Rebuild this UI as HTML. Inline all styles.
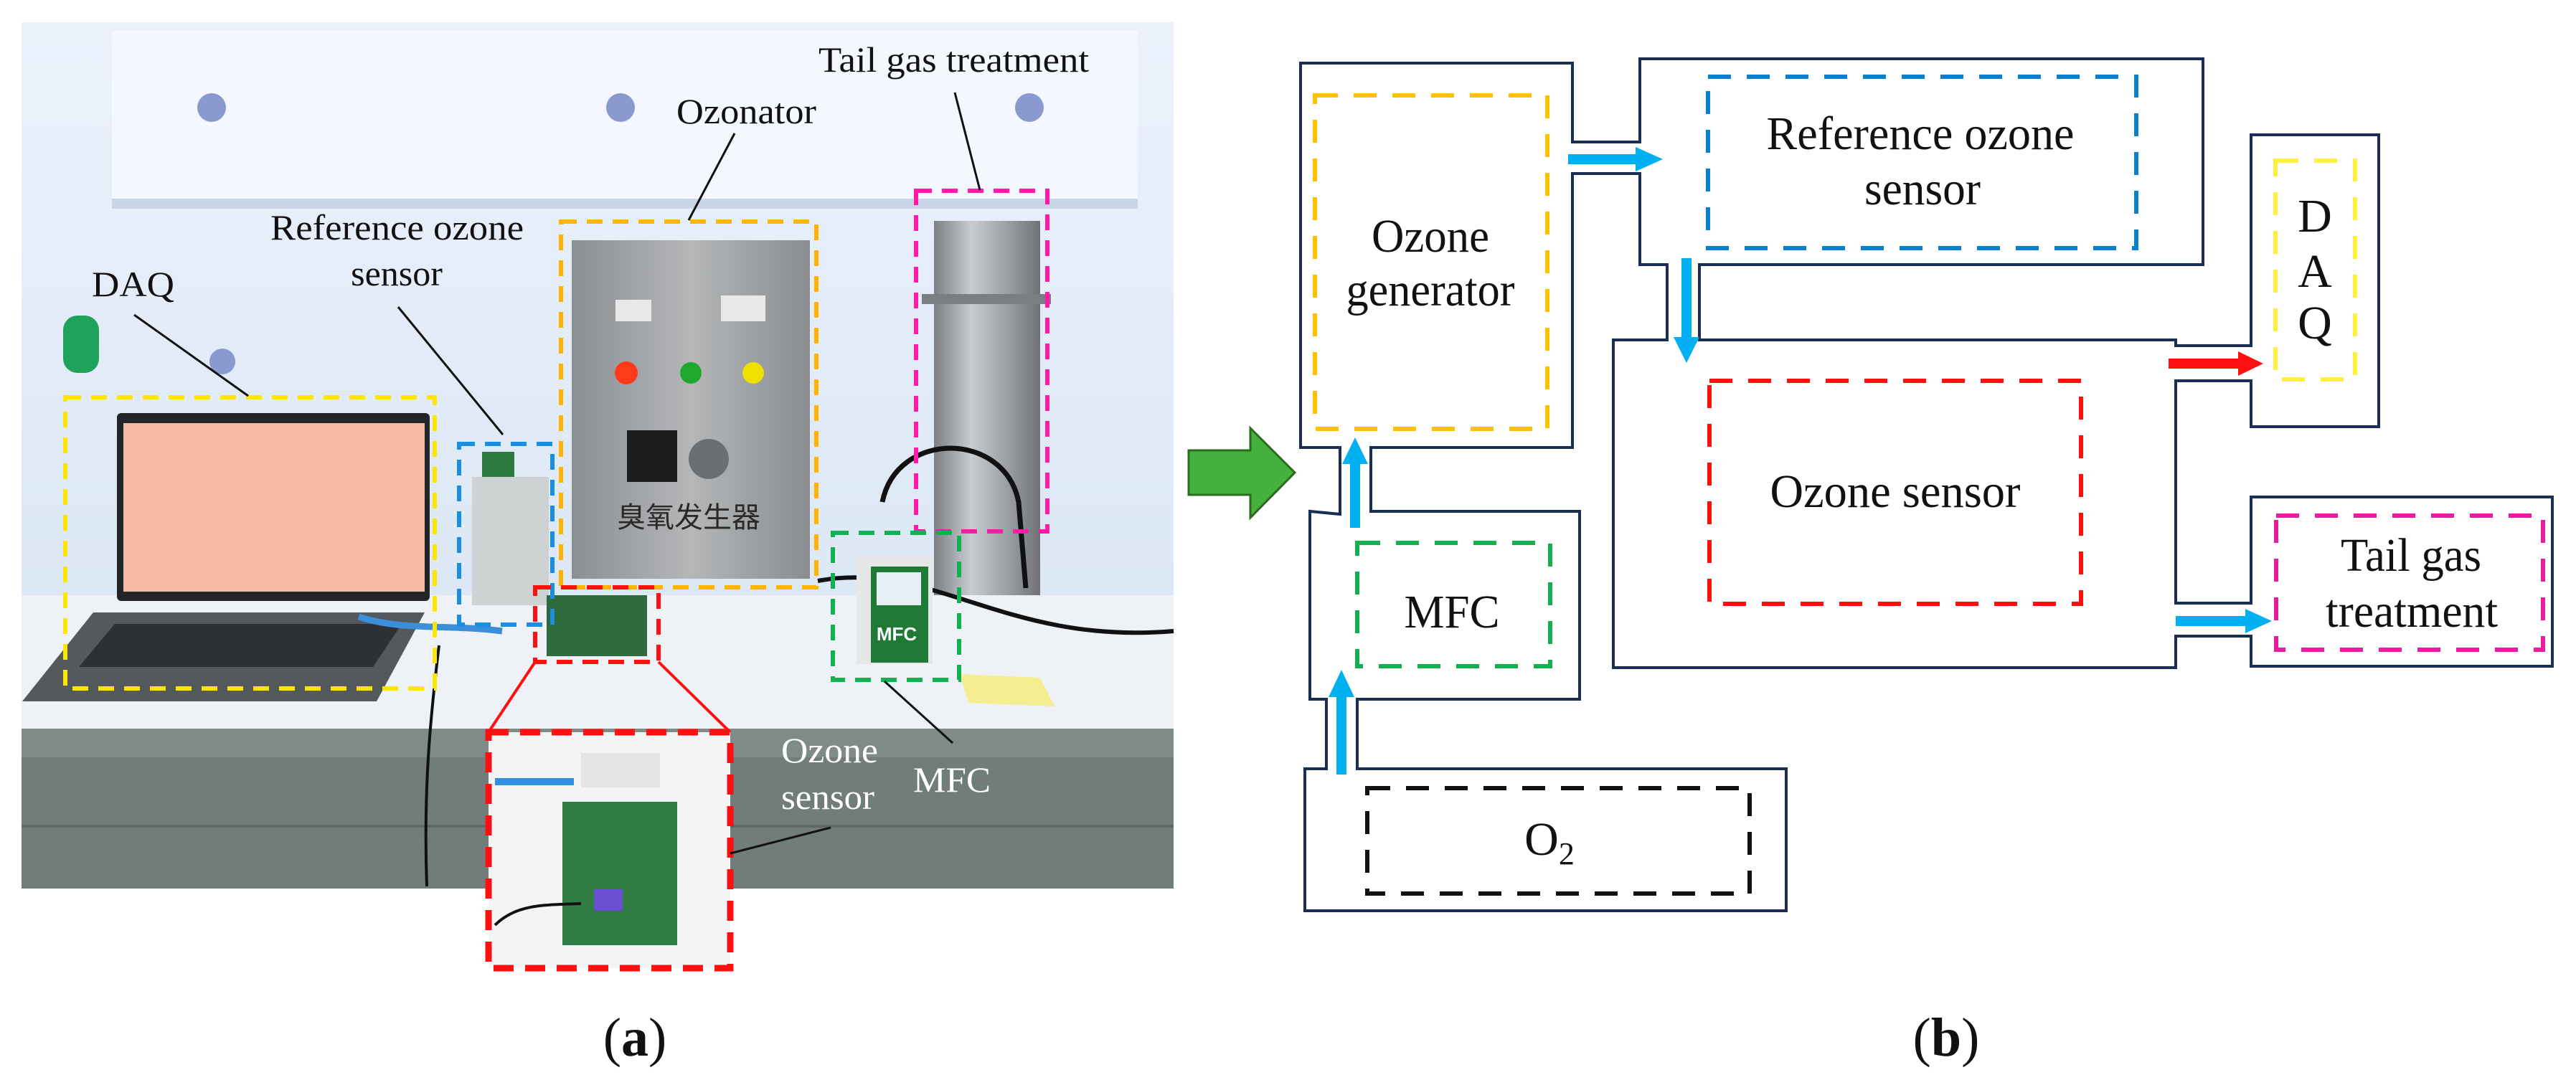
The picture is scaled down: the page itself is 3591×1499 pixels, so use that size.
<!DOCTYPE html>
<html><head><meta charset="utf-8"><style>
html,body{margin:0;padding:0;background:#fff}
svg{display:block}
</style></head><body>
<svg width="3591" height="1499" viewBox="0 0 3591 1499" xmlns="http://www.w3.org/2000/svg">
<defs>
<linearGradient id="steel" x1="0" x2="1" y1="0" y2="0">
<stop offset="0" stop-color="#8c8f92"/><stop offset="0.5" stop-color="#b4b6b8"/><stop offset="1" stop-color="#8a8d90"/></linearGradient>
<linearGradient id="cyl" x1="0" x2="1" y1="0" y2="0">
<stop offset="0" stop-color="#7c8085"/><stop offset="0.35" stop-color="#c9ccd0"/><stop offset="0.7" stop-color="#9a9ea3"/><stop offset="1" stop-color="#6f7377"/></linearGradient>
<linearGradient id="wall" x1="0" x2="0" y1="0" y2="1">
<stop offset="0" stop-color="#eaf1fb"/><stop offset="1" stop-color="#d6e3f3"/></linearGradient>
</defs>

<!-- ===== Photo (a) ===== -->
<rect x="30" y="31" width="1606" height="1208" fill="url(#wall)"/>
<rect x="156" y="43" width="1430" height="234" fill="#f4f8fe"/>
<rect x="156" y="277" width="1430" height="14" fill="#c9d6e8"/>
<rect x="30" y="830" width="1606" height="186" fill="#eef2f6"/>
<rect x="30" y="1016" width="1606" height="223" fill="#707d7b"/>
<rect x="30" y="1016" width="1606" height="40" fill="#7f8b89"/>
<rect x="30" y="1150" width="1606" height="4" fill="#5e6967"/>
<!-- knobs -->
<circle cx="295" cy="150" r="20" fill="#8a9ad0"/><circle cx="865" cy="150" r="20" fill="#8a9ad0"/><circle cx="1435" cy="150" r="20" fill="#8a9ad0"/>
<circle cx="310" cy="504" r="18" fill="#8a9ad0"/>
<!-- laptop -->
<rect x="163" y="576" width="436" height="262" rx="6" fill="#222427"/>
<rect x="172" y="590" width="420" height="235" fill="#f6b9a1"/>
<polygon points="130,854 592,854 525,978 31,978" fill="#55595c"/>
<polygon points="160,870 560,870 520,930 110,930" fill="#2e3134"/>
<rect x="88" y="440" width="50" height="80" rx="20" fill="#1fa35a"/>
<!-- reference sensor box -->
<rect x="658" y="665" width="107" height="179" fill="#cfd2d2"/>
<rect x="672" y="630" width="45" height="35" fill="#2f7a3f"/>
<!-- ozonator -->
<rect x="797" y="335" width="332" height="472" fill="url(#steel)"/>
<rect x="858" y="418" width="50" height="30" fill="#e8e8e8"/>
<rect x="1005" y="412" width="62" height="36" fill="#e8e8e8"/>
<circle cx="873" cy="520" r="16" fill="#ff3a1a"/>
<circle cx="963" cy="520" r="15" fill="#1fa82c"/>
<circle cx="1050" cy="520" r="15" fill="#f0e000"/>
<rect x="874" y="600" width="70" height="72" fill="#1b1d1f"/>
<circle cx="988" cy="640" r="28" fill="#6b6f72"/>
<text x="960" y="735" font-family="'Liberation Sans','Noto Sans CJK SC',sans-serif" font-size="40" fill="#2a2a2a" text-anchor="middle">臭氧发生器</text>
<!-- tail gas cylinder -->
<rect x="1302" y="308" width="148" height="522" fill="url(#cyl)"/>
<rect x="1285" y="410" width="180" height="14" fill="#7a7e82"/>
<path d="M1230 700 C1250 600 1400 600 1420 700 L1430 820" stroke="#111" stroke-width="7" fill="none"/>
<path d="M1140 810 C1300 780 1400 900 1636 880" stroke="#111" stroke-width="6" fill="none"/>
<!-- MFC device -->
<rect x="1194" y="774" width="106" height="152" fill="#e6e8e8"/>
<rect x="1214" y="790" width="80" height="134" fill="#1f7a36"/>
<rect x="1222" y="798" width="62" height="46" fill="#e8eef6"/>
<text x="1250" y="893" font-family="'Liberation Sans',sans-serif" font-weight="bold" font-size="26" fill="#fff" text-anchor="middle">MFC</text>
<polygon points="1338,940 1450,945 1470,985 1350,980" fill="#f4ee90"/>
<!-- small pcb -->
<rect x="762" y="830" width="140" height="85" fill="#2d6b3c"/>
<path d="M500 860 C560 880 620 870 700 880" stroke="#3b8fd8" stroke-width="9" fill="none"/>
<path d="M612 900 C600 1000 590 1100 595 1236" stroke="#111" stroke-width="4" fill="none"/>
<!-- inset -->
<rect x="681" y="1021" width="337" height="329" fill="#f2f4f6"/>
<rect x="810" y="1050" width="110" height="48" fill="#e4e4e4"/>
<rect x="784" y="1118" width="160" height="200" fill="#2f7d45"/>
<rect x="828" y="1240" width="40" height="30" fill="#6a4fd0"/>
<path d="M690 1090 L800 1090" stroke="#2f8fe0" stroke-width="10"/>
<path d="M690 1290 C720 1260 760 1262 810 1260" stroke="#111" stroke-width="4" fill="none"/>

<!-- dashed boxes on photo -->
<g fill="none" stroke-width="6" stroke-dasharray="22,14">
<rect x="91" y="554" width="515" height="406" stroke="#ffe600"/>
<rect x="640" y="619" width="130" height="252" stroke="#1a8ee0"/>
<rect x="782" y="309" width="356" height="510" stroke="#ffb400"/>
<rect x="1277" y="266" width="183" height="475" stroke="#ff1aa8"/>
<rect x="1161" y="743" width="176" height="205" stroke="#12b050"/>
<rect x="746" y="819" width="172" height="104" stroke="#ff1010"/>
<rect x="681" y="1021" width="337" height="329" stroke="#ff1010" stroke-width="9" stroke-dasharray="28,16"/>
</g>
<line x1="746" y1="923" x2="681" y2="1021" stroke="#ff1010" stroke-width="4"/>
<line x1="918" y1="923" x2="1018" y2="1021" stroke="#ff1010" stroke-width="4"/>
<!-- leader lines -->
<g stroke="#111" stroke-width="3">
<line x1="1331" y1="129" x2="1366" y2="265"/>
<line x1="1024" y1="186" x2="960" y2="307"/>
<line x1="555" y1="428" x2="701" y2="606"/>
<line x1="187" y1="439" x2="346" y2="552"/>
<line x1="1233" y1="950" x2="1328" y2="1036"/>
<line x1="1158" y1="1154" x2="1018" y2="1190"/>
</g>
<!-- photo labels -->
<g font-family="'Liberation Serif',serif" font-size="50" fill="#111">
<text x="1141" y="100" textLength="377" lengthAdjust="spacingAndGlyphs">Tail gas treatment</text>
<text x="943" y="172" textLength="195" lengthAdjust="spacingAndGlyphs">Ozonator</text>
<text x="377" y="334" textLength="353" lengthAdjust="spacingAndGlyphs">Reference  ozone</text>
<text x="553" y="398" text-anchor="middle">sensor</text>
<text x="128" y="413" textLength="115" lengthAdjust="spacingAndGlyphs">DAQ</text>
</g>
<g font-family="'Liberation Serif',serif" font-size="50" fill="#fff">
<text x="1089" y="1063" textLength="135" lengthAdjust="spacingAndGlyphs">Ozone</text>
<text x="1089" y="1128" textLength="130" lengthAdjust="spacingAndGlyphs">sensor</text>
<text x="1273" y="1104" textLength="108" lengthAdjust="spacingAndGlyphs">MFC</text>
</g>

<!-- green arrow -->
<polygon points="1657,628 1743,628 1743,597 1805,659 1743,722 1743,690 1657,690" fill="#46b03d" stroke="#2a6d1e" stroke-width="3"/>

<!-- ===== Diagram (b) ===== -->
<path d="M1868,717 V624 H1813 V88 H2192 V198 H2286 V82 H3071 V369 H2369 V474 H3033 V482 H3138 V188 H3316 V595 H3138 V531 H3033 V841 H3138 V693 H3558 V929 H3138 V887 H3033 V931 H2249 V474 H2324 V369 H2286 V242 H2192 V624 H1911 V713 H2202 V975 H1892 V1072 H2490 V1270 H1819 V1072 H1849 V975 H1826 V713 Z" fill="none" stroke="#1a2e55" stroke-width="4"/>

<g fill="none" stroke-width="6" stroke-dasharray="32,22">
<rect x="1833" y="133" width="324" height="465" stroke="#ffc000"/>
<rect x="2381" y="107" width="597" height="239" stroke="#0b7fd0"/>
<rect x="2383" y="531" width="518" height="311" stroke="#ff1010"/>
<rect x="3172" y="224" width="111" height="305" stroke="#ffef40"/>
<rect x="3173" y="719" width="372" height="187" stroke="#e81aa0"/>
<rect x="1892" y="757" width="269" height="172" stroke="#12b050"/>
<rect x="1906" y="1099" width="533" height="147" stroke="#111"/>
</g>

<!-- arrows -->
<g fill="#00b0f0">
<polygon points="2186,215 2280,215 2280,205 2318,222 2280,239 2280,229 2186,229"/>
<polygon points="2344,360 2358,360 2358,470 2369,470 2351,506 2333,470 2344,470"/>
<polygon points="1882,736 1896,736 1896,647 1907,647 1889,610 1871,647 1882,647"/>
<polygon points="1863,1080 1877,1080 1877,972 1888,972 1870,934 1852,972 1863,972"/>
<polygon points="3033,859 3130,859 3130,849 3167,866 3130,883 3130,873 3033,873"/>
</g>
<polygon points="3023,500 3120,500 3120,490 3155,507 3120,524 3120,514 3023,514" fill="#ff1010"/>

<!-- diagram labels -->
<g font-family="'Liberation Serif',serif" font-size="66" fill="#111" text-anchor="middle">
<text x="1994" y="351" textLength="164" lengthAdjust="spacingAndGlyphs">Ozone</text>
<text x="1994" y="426" textLength="235" lengthAdjust="spacingAndGlyphs">generator</text>
<text x="2677" y="208" textLength="429" lengthAdjust="spacingAndGlyphs">Reference ozone</text>
<text x="2680" y="285" textLength="162" lengthAdjust="spacingAndGlyphs">sensor</text>
<text x="2642" y="707" textLength="349" lengthAdjust="spacingAndGlyphs">Ozone sensor</text>
<text x="2024" y="875" textLength="133" lengthAdjust="spacingAndGlyphs">MFC</text>
<text x="3361" y="796" textLength="196" lengthAdjust="spacingAndGlyphs">Tail  gas</text>
<text x="3362" y="874" textLength="240" lengthAdjust="spacingAndGlyphs">treatment</text>
<text x="3227" y="323">D</text>
<text x="3227" y="400">A</text>
<text x="3227" y="472">Q</text>
<text x="2160" y="1192">O<tspan font-size="44" dy="13">2</tspan></text>
</g>

<!-- captions -->
<g font-family="'Liberation Serif',serif" font-size="76" fill="#111" text-anchor="middle">
<text x="885" y="1472">(<tspan font-weight="bold">a</tspan>)</text>
<text x="2713" y="1472">(<tspan font-weight="bold">b</tspan>)</text>
</g>
</svg>
</body></html>
